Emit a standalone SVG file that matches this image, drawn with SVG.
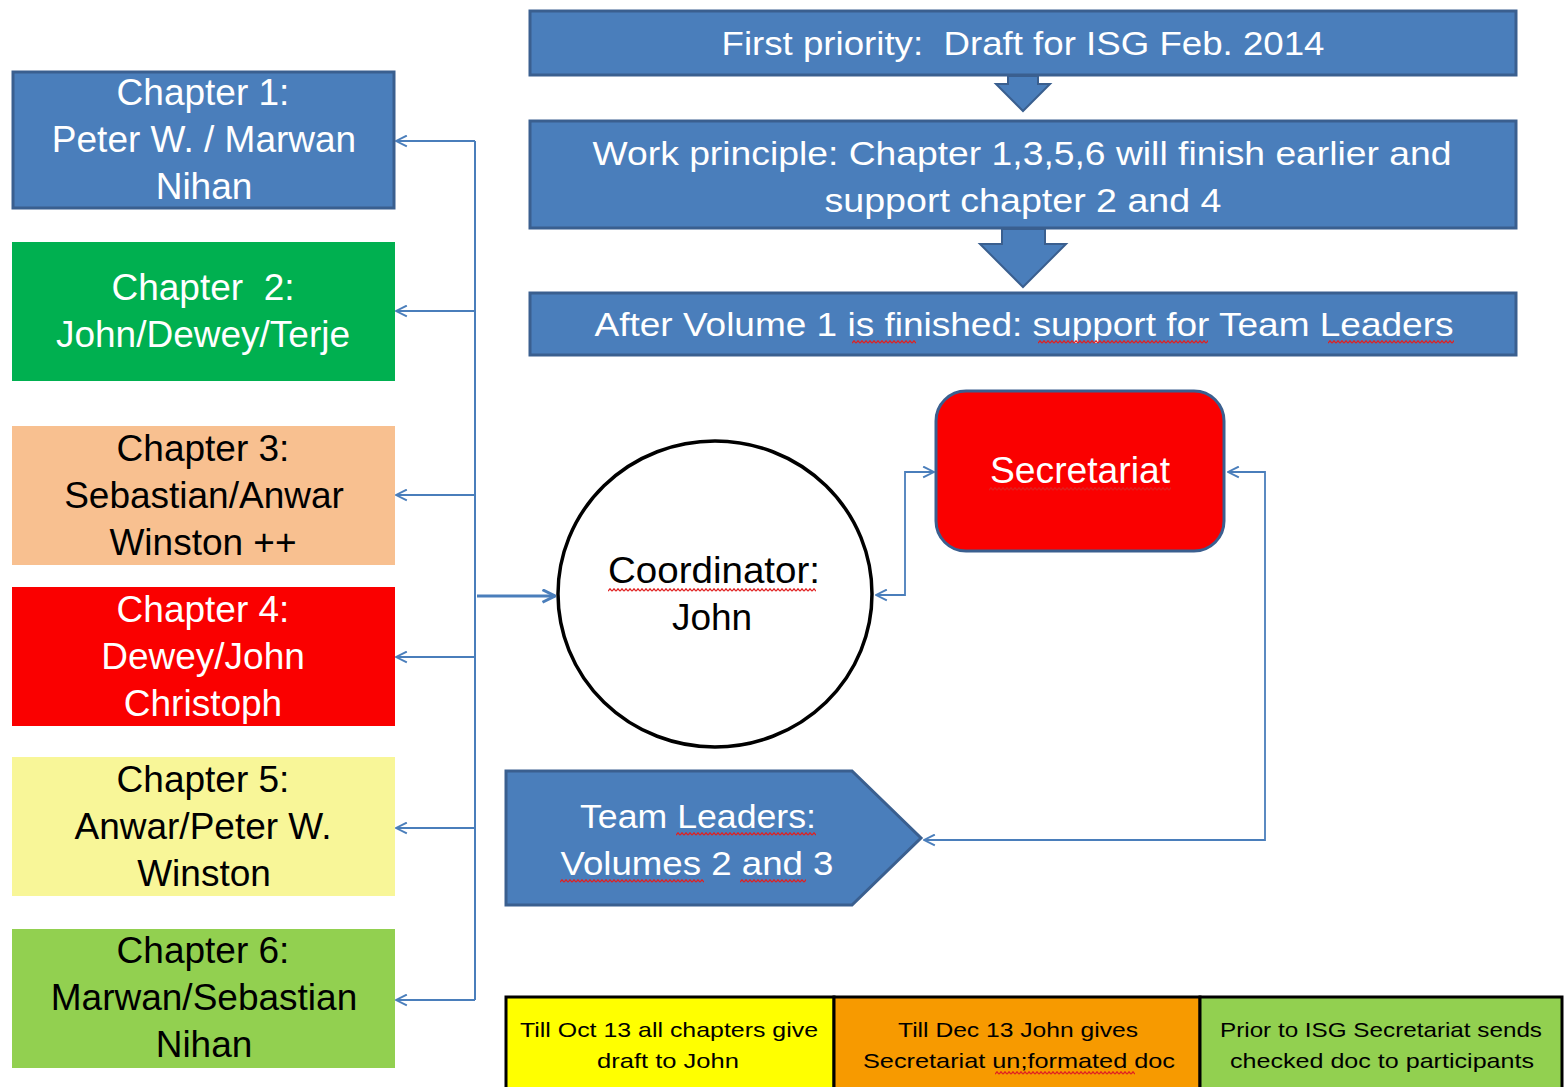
<svg xmlns="http://www.w3.org/2000/svg" width="1564" height="1087" viewBox="0 0 1564 1087">
<defs>
<style>
.t{font-family:"Liberation Sans",Arial,sans-serif;text-anchor:middle}
.big{font-size:37px}
.top{font-size:34px;fill:#fff}
.sm{font-size:21px;fill:#000}
.w{fill:#fff}
.k{fill:#000}
.conn{fill:none;stroke:#4a7ebb;stroke-width:2}
.blue{fill:#4a7ebb;stroke:#3a5f8f;stroke-width:3}
.sq{fill:url(#squig)}
</style>
<marker id="oa" viewBox="0 0 12 12" refX="11" refY="6" markerWidth="13" markerHeight="13" markerUnits="userSpaceOnUse" orient="auto-start-reverse">
<path d="M1 1 L11 6 L1 11" fill="none" stroke="#4a7ebb" stroke-width="1.8"/>
</marker>
<marker id="oa2" viewBox="0 0 12 12" refX="11" refY="6" markerWidth="15" markerHeight="15" markerUnits="userSpaceOnUse" orient="auto">
<path d="M1 1 L11 6 L1 11" fill="none" stroke="#4a7ebb" stroke-width="2.4"/>
</marker>
<pattern id="squig" patternUnits="userSpaceOnUse" width="4" height="4">
<path d="M0 3.2 L2 0.8 L4 3.2" fill="none" stroke="#e02020" stroke-width="1.3"/>
</pattern>
</defs>
<rect width="1564" height="1087" fill="#fff"/>

<g id="connectors">
<path class="conn" d="M475 141 V1000"/>
<path class="conn" d="M475 141 H396" marker-end="url(#oa)"/>
<path class="conn" d="M475 311 H396" marker-end="url(#oa)"/>
<path class="conn" d="M475 495 H396" marker-end="url(#oa)"/>
<path class="conn" d="M475 657 H396" marker-end="url(#oa)"/>
<path class="conn" d="M475 828 H396" marker-end="url(#oa)"/>
<path class="conn" d="M475 1000 H396" marker-end="url(#oa)"/>
<path class="conn" style="stroke-width:3" d="M477 596 H555" marker-end="url(#oa2)"/>
<path class="conn" style="stroke-width:1.8" d="M876 595 H905 V472 H934" marker-start="url(#oa)" marker-end="url(#oa)"/>
<path class="conn" style="stroke-width:1.8" d="M1228 472 H1265 V840 H924" marker-start="url(#oa)" marker-end="url(#oa)"/>
</g>

<g id="ch1">
<rect x="13" y="72" width="381" height="136" fill="#4a7ebb" stroke="#3a5f8f" stroke-width="3"/>
<text class="t big w" x="203" y="105">Chapter 1:</text>
<text class="t big w" x="204" y="152">Peter W. / Marwan</text>
<text class="t big w" x="204" y="199">Nihan</text>
</g>
<g id="ch2">
<rect x="12" y="242" width="383" height="139" fill="#00b050"/>
<text class="t big w" x="203" y="300" xml:space="preserve">Chapter  2:</text>
<text class="t big w" x="203" y="347">John/Dewey/Terje</text>
</g>
<g id="ch3">
<rect x="12" y="426" width="383" height="139" fill="#f8c090"/>
<text class="t big k" x="203" y="461">Chapter 3:</text>
<text class="t big k" x="204" y="508">Sebastian/Anwar</text>
<text class="t big k" x="203" y="555">Winston ++</text>
</g>
<g id="ch4">
<rect x="12" y="587" width="383" height="139" fill="#fa0000"/>
<text class="t big w" x="203" y="622">Chapter 4:</text>
<text class="t big w" x="203" y="669">Dewey/John</text>
<text class="t big w" x="203" y="716">Christoph</text>
</g>
<g id="ch5">
<rect x="12" y="757" width="383" height="139" fill="#f8f698"/>
<text class="t big k" x="203" y="792">Chapter 5:</text>
<text class="t big k" x="203" y="839">Anwar/Peter W.</text>
<text class="t big k" x="204" y="886">Winston</text>
</g>
<g id="ch6">
<rect x="12" y="929" width="383" height="139" fill="#92d050"/>
<text class="t big k" x="203" y="963">Chapter 6:</text>
<text class="t big k" x="204" y="1010">Marwan/Sebastian</text>
<text class="t big k" x="204" y="1057">Nihan</text>
</g>

<g id="priority">
<rect class="blue" x="530" y="11" width="986" height="64"/>
<text class="t top" x="1023" y="55" textLength="603" lengthAdjust="spacingAndGlyphs" xml:space="preserve">First priority:  Draft for ISG Feb. 2014</text>
</g>
<g id="arrow1">
<path class="blue" style="stroke-width:2" d="M1008 76 H1038 V84 H1050 L1023 111 L996 84 H1008 Z"/>
</g>
<g id="principle">
<rect class="blue" x="530" y="121" width="986" height="107"/>
<text class="t top" x="1022" y="165" textLength="859" lengthAdjust="spacingAndGlyphs">Work principle: Chapter 1,3,5,6 will finish earlier and</text>
<text class="t top" x="1023" y="212" textLength="397" lengthAdjust="spacingAndGlyphs">support chapter 2 and 4</text>
</g>
<g id="arrow2">
<path class="blue" style="stroke-width:2" d="M1002 229 H1045 V244 H1066 L1023 287 L980 244 H1002 Z"/>
</g>
<g id="after">
<rect class="blue" x="530" y="293" width="986" height="62"/>
<text class="t top" x="1024" y="336" textLength="859" lengthAdjust="spacingAndGlyphs">After Volume 1 is finished: support for Team Leaders</text>
<rect class="sq" x="0" y="0" width="64" height="4" transform="translate(852,340)"/>
<rect class="sq" x="0" y="0" width="170" height="4" transform="translate(1038,340)"/>
<rect class="sq" x="0" y="0" width="126" height="4" transform="translate(1328,340)"/>
</g>

<g id="coordinator">
<ellipse cx="715" cy="594" rx="157" ry="153" fill="#fff" stroke="#000" stroke-width="3.5"/>
<text class="t big k" x="714" y="583" textLength="212" lengthAdjust="spacingAndGlyphs">Coordinator:</text>
<text class="t big k" x="712" y="630">John</text>
<rect class="sq" x="0" y="0" width="208" height="4" transform="translate(608,588)"/>
</g>

<g id="secretariat">
<rect x="936" y="391" width="288" height="160" rx="30" fill="#fa0000" stroke="#3a5f8f" stroke-width="3"/>
<text class="t big w" x="1080" y="483" textLength="180" lengthAdjust="spacingAndGlyphs">Secretariat</text>
<rect class="sq" x="0" y="0" width="182" height="4" transform="translate(989,487)"/>
</g>

<g id="teamleaders">
<path class="blue" d="M506 771 H852 L921 838 L852 905 H506 Z"/>
<text class="t top" x="698" y="828" textLength="236" lengthAdjust="spacingAndGlyphs">Team Leaders:</text>
<text class="t top" x="697" y="875" textLength="273" lengthAdjust="spacingAndGlyphs">Volumes 2 and 3</text>
<rect class="sq" x="0" y="0" width="140" height="4" transform="translate(676,832)"/>
<rect class="sq" x="0" y="0" width="144" height="4" transform="translate(560,879)"/>
<rect class="sq" x="0" y="0" width="66" height="4" transform="translate(740,879)"/>
</g>

<g id="timeline">
<rect x="506" y="997" width="328" height="95" fill="#ffff00" stroke="#000" stroke-width="3"/>
<rect x="834" y="997" width="366" height="95" fill="#f79a00" stroke="#000" stroke-width="3"/>
<rect x="1200" y="997" width="362" height="95" fill="#92d050" stroke="#000" stroke-width="3"/>
<text class="t sm" x="669" y="1037" textLength="298" lengthAdjust="spacingAndGlyphs">Till Oct 13 all chapters give</text>
<text class="t sm" x="668" y="1068" textLength="142" lengthAdjust="spacingAndGlyphs">draft to John</text>
<text class="t sm" x="1018" y="1037" textLength="240" lengthAdjust="spacingAndGlyphs">Till Dec 13 John gives</text>
<text class="t sm" x="1019" y="1068" textLength="312" lengthAdjust="spacingAndGlyphs">Secretariat un;formated doc</text>
<rect class="sq" x="0" y="0" width="140" height="4" transform="translate(995,1071)"/>
<text class="t sm" x="1381" y="1037" textLength="322" lengthAdjust="spacingAndGlyphs">Prior to ISG Secretariat sends</text>
<text class="t sm" x="1382" y="1068" textLength="304" lengthAdjust="spacingAndGlyphs">checked doc to participants</text>
</g>
</svg>
